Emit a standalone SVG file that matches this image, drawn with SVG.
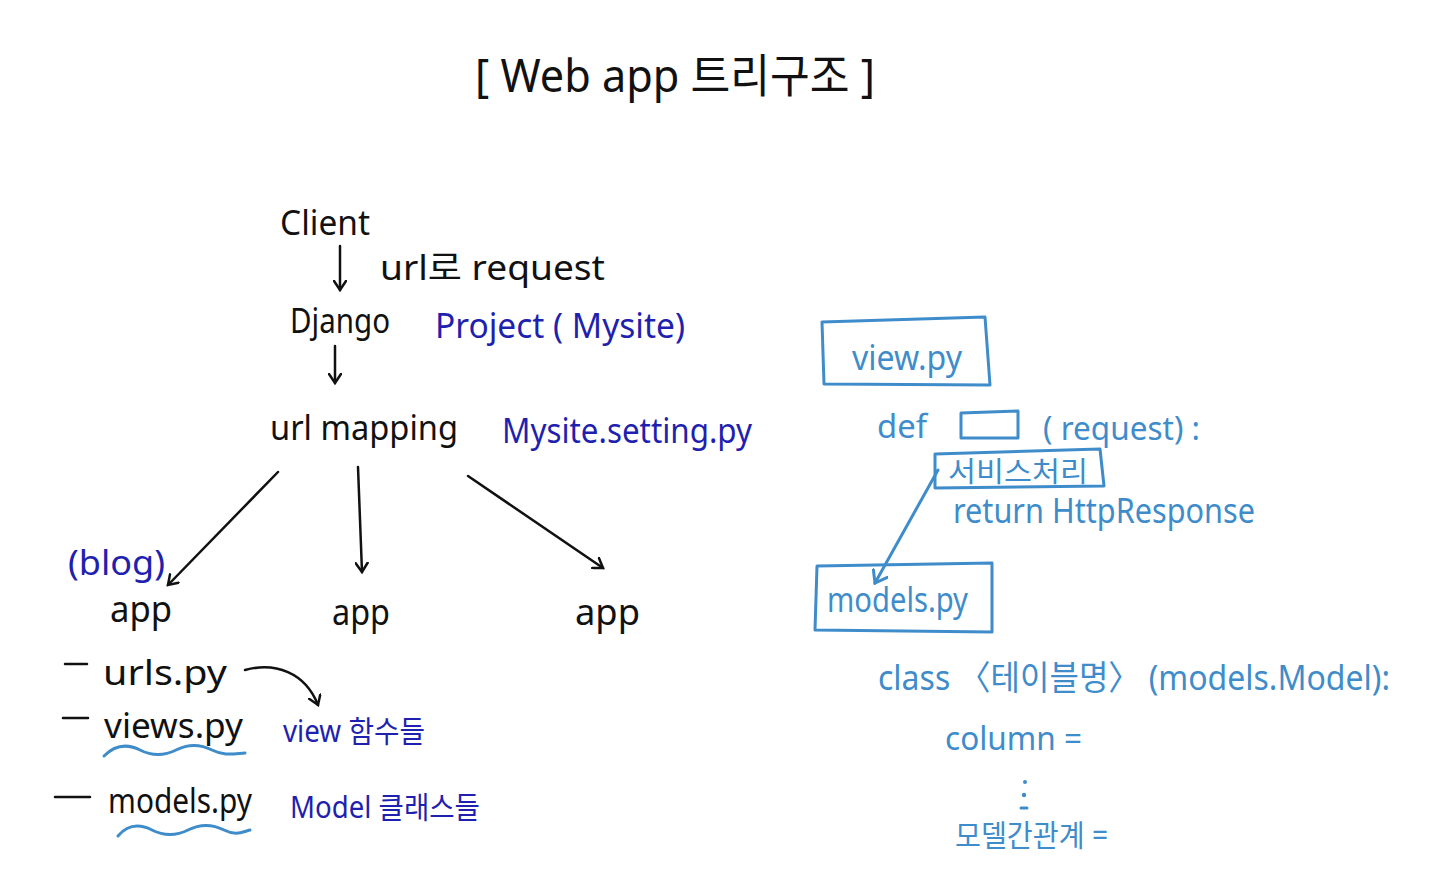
<svg xmlns="http://www.w3.org/2000/svg" width="1440" height="889" viewBox="0 0 1440 889">
<style>
text{font-family:"Noto Sans","Noto Sans CJK KR",sans-serif;}
.k{fill:#111;}
.b{fill:#1f1fb0;}
.l{fill:#3f8ccb;}
.lk{stroke:#111;stroke-width:2.5;fill:none;stroke-linecap:round;}
.ll{stroke:#3f8ccb;stroke-width:3;fill:none;stroke-linecap:round;stroke-linejoin:round;}
</style>
<defs>
<marker id="ak" markerWidth="14" markerHeight="14" refX="10" refY="7" orient="auto" markerUnits="userSpaceOnUse">
<path d="M1,1 L10,7 L1,13" fill="none" stroke="#111" stroke-width="2.5" stroke-linecap="round"/>
</marker>
<marker id="al" markerWidth="18" markerHeight="18" refX="12" refY="9" orient="auto" markerUnits="userSpaceOnUse">
<path d="M1,1 L12,9 L1,17" fill="none" stroke="#3f8ccb" stroke-width="3" stroke-linecap="round"/>
</marker>
</defs>
<rect width="1440" height="889" fill="#fff"/>

<g id="title"><text x="475" y="92" font-size="46" class="k" textLength="400" lengthAdjust="spacingAndGlyphs">[ Web app 트리구조 ]</text></g>

<g id="client"><text x="280" y="235" font-size="34" class="k" textLength="90" lengthAdjust="spacingAndGlyphs">Client</text></g>
<g id="url-request"><text x="380" y="280" font-size="34" class="k" textLength="225" lengthAdjust="spacingAndGlyphs">url로 request</text></g>
<g id="django"><text x="290" y="333" font-size="34" class="k" textLength="100" lengthAdjust="spacingAndGlyphs">Django</text>
<text x="435" y="338" font-size="34" class="b" textLength="250" lengthAdjust="spacingAndGlyphs">Project ( Mysite)</text></g>
<g id="url-mapping"><text x="270" y="440" font-size="34" class="k" textLength="188" lengthAdjust="spacingAndGlyphs">url mapping</text>
<text x="502" y="443" font-size="34" class="b" textLength="250" lengthAdjust="spacingAndGlyphs">Mysite.setting.py</text></g>

<g id="app1"><text x="68" y="575" font-size="34" class="b" textLength="97" lengthAdjust="spacingAndGlyphs">(blog)</text>
<text x="110" y="622" font-size="36" class="k" textLength="62" lengthAdjust="spacingAndGlyphs">app</text></g>
<g id="app2"><text x="332" y="625" font-size="36" class="k" textLength="58" lengthAdjust="spacingAndGlyphs">app</text></g>
<g id="app3"><text x="575" y="625" font-size="36" class="k" textLength="65" lengthAdjust="spacingAndGlyphs">app</text></g>

<g id="files">
<line x1="65" y1="664" x2="87" y2="664" class="lk" stroke-width="3"/>
<text x="103" y="685" font-size="34" class="k" textLength="124" lengthAdjust="spacingAndGlyphs">urls.py</text>
<line x1="63" y1="718" x2="88" y2="718" class="lk" stroke-width="3"/>
<text x="104" y="738" font-size="34" class="k" textLength="139" lengthAdjust="spacingAndGlyphs">views.py</text>
<path d="M104,756 C116,744 128,744 140,750 S164,756 176,750 S200,744 212,750 S232,754 245,753" class="ll" stroke-width="2.5"/>
<text x="283" y="742" font-size="30" class="b" textLength="142" lengthAdjust="spacingAndGlyphs">view 함수들</text>
<line x1="55" y1="797" x2="90" y2="797" class="lk" stroke-width="3"/>
<text x="108" y="813" font-size="34" class="k" textLength="144" lengthAdjust="spacingAndGlyphs">models.py</text>
<path d="M118,836 C128,824 140,824 152,830 S176,836 188,830 S212,824 224,830 S242,832 250,830" class="ll" stroke-width="2.5"/>
<text x="290" y="818" font-size="30" class="b" textLength="190" lengthAdjust="spacingAndGlyphs">Model 클래스들</text>
</g>

<g id="view-py">
<path d="M822,322 L985,317 L990,385 L824,384 Z" class="ll"/>
<text x="852" y="370" font-size="34" class="l" textLength="110" lengthAdjust="spacingAndGlyphs">view.py</text>
<text x="877" y="438" font-size="32" class="l" textLength="50" lengthAdjust="spacingAndGlyphs">def</text>
<path d="M961,413 L1018,411 L1018,438 L961,438 Z" class="ll"/>
<text x="1043" y="440" font-size="32" class="l" textLength="157" lengthAdjust="spacingAndGlyphs">( request) :</text>
<path d="M935,454 L1100,449 L1104,486 L935,488 Z" class="ll"/>
<text x="948" y="482" font-size="28" class="l" textLength="140" lengthAdjust="spacingAndGlyphs">서비스처리</text>
<text x="953" y="523" font-size="34" class="l" textLength="302" lengthAdjust="spacingAndGlyphs">return HttpResponse</text>
</g>

<g id="models-py">
<path d="M817,566 L992,563 L992,632 L815,630 Z" class="ll"/>
<text x="827" y="612" font-size="34" class="l" textLength="141" lengthAdjust="spacingAndGlyphs">models.py</text>
<text x="878" y="690" font-size="34" class="l" textLength="512" lengthAdjust="spacingAndGlyphs">class 〈테이블명〉 (models.Model):</text>
<text x="945" y="750" font-size="32" class="l" textLength="137" lengthAdjust="spacingAndGlyphs">column  =</text>
<circle cx="1025" cy="782" r="2" fill="#3f8ccb"/>
<circle cx="1024" cy="795" r="2.2" fill="#3f8ccb"/>
<line x1="1021" y1="808" x2="1027" y2="808" class="ll" stroke-width="2.5"/>
<text x="955" y="846" font-size="30" class="l" textLength="153" lengthAdjust="spacingAndGlyphs">모델간관계 =</text>
</g>

<g id="connectors">
<line x1="340" y1="246" x2="340" y2="290" class="lk" marker-end="url(#ak)"/>
<line x1="335" y1="346" x2="335" y2="383" class="lk" marker-end="url(#ak)"/>
<line x1="278" y1="472" x2="168" y2="585" class="lk" marker-end="url(#ak)"/>
<line x1="358" y1="467" x2="362" y2="572" class="lk" marker-end="url(#ak)"/>
<line x1="468" y1="476" x2="603" y2="568" class="lk" marker-end="url(#ak)"/>
<path d="M245,670 C275,662 305,672 318,705" class="lk" marker-end="url(#ak)"/>
<line x1="938" y1="470" x2="875" y2="583" class="ll" marker-end="url(#al)"/>
</g>
</svg>
